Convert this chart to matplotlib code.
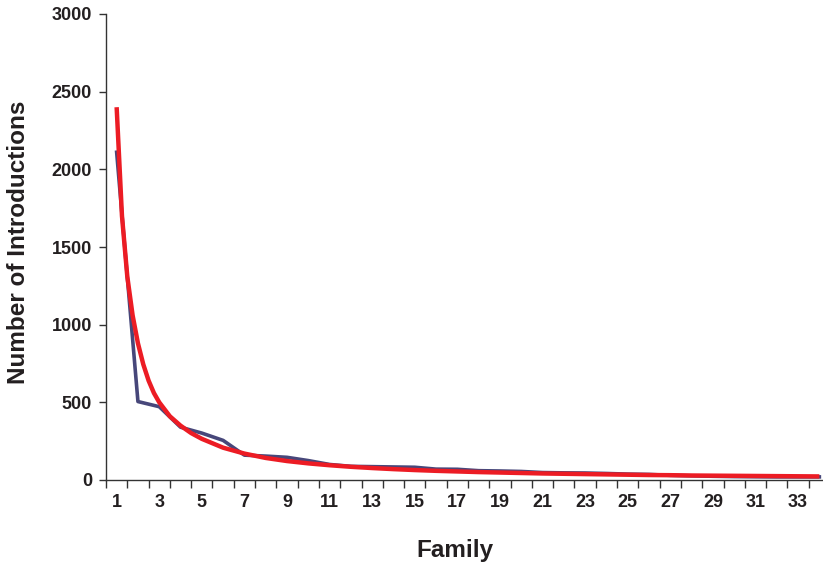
import matplotlib
matplotlib.use('Agg')
import matplotlib.pyplot as plt
from matplotlib.ticker import FixedLocator

plt.rcParams['font.family'] = ['Liberation Sans', 'DejaVu Sans']

# observed introductions per family (rank order)
family = list(range(1, 35))
introductions = [2110, 505, 472, 340, 302, 255, 160, 154, 146, 125,
                 100, 88, 86, 84, 82, 70, 69, 60, 58, 55,
                 48, 46, 45, 42, 38, 36, 30, 27, 24, 22,
                 21, 20, 20, 20]

# fitted trend curve
fit_x = [1, 1.25, 1.5, 1.75, 2, 2.25, 2.5, 2.75, 3, 3.5, 4, 4.5, 5, 6, 7, 8, 9, 10,
         11, 12, 13, 14, 15, 16, 17, 18, 19, 20, 21, 22, 23, 24,
         25, 26, 27, 28, 29, 30, 31, 32, 33, 34]
fit_y = [2400, 1700, 1310, 1060, 880, 745, 640, 560, 500, 410, 350, 302, 265, 208, 170, 142, 122, 107,
         95, 85, 77, 70, 64, 59, 55, 51, 48, 45, 42, 40, 38, 36,
         34, 32, 31, 29, 28, 27, 26, 25, 24, 23]

fig = plt.figure(figsize=(8.23, 5.68), dpi=100)
ax = fig.add_axes([106 / 823, 88 / 568, 724 / 823, 466 / 568])

ax.plot(family, introductions, color='#47477a', lw=2.6, solid_joinstyle='round')
ax.plot(fit_x, fit_y, color='#ec1c24', lw=3.2, solid_capstyle='butt')

ax.set_xlim(0.5, 34.5)
ax.set_ylim(0, 3000)
ax.set_yticks(range(0, 3001, 500))
ax.set_xticks(range(1, 34, 2))
ax.xaxis.set_minor_locator(FixedLocator([k + 0.5 for k in range(0, 34)]))
ax.tick_params(axis='x', which='major', length=0, pad=10)
ax.tick_params(axis='x', which='minor', length=6, width=1, color='#333333')
ax.tick_params(axis='y', length=5, width=1, color='#333333', pad=5)

for lbl in ax.get_xticklabels() + ax.get_yticklabels():
    lbl.set_fontsize(13)
    lbl.set_fontweight('bold')
    lbl.set_color('#231f20')

for s in ['top', 'right']:
    ax.spines[s].set_visible(False)
for s in ['left', 'bottom']:
    ax.spines[s].set_color('#333333')
    ax.spines[s].set_linewidth(1)

fig.text(455 / 823, 1 - 551 / 568, 'Family', fontsize=17.5, fontweight='bold',
         color='#231f20', ha='center', va='center')
fig.text(19 / 823, 1 - 242 / 568, 'Number of Introductions', fontsize=17.5,
         fontweight='bold', color='#231f20', ha='center', va='center', rotation=90)

fig.savefig('out.png', dpi=100, facecolor='white')
